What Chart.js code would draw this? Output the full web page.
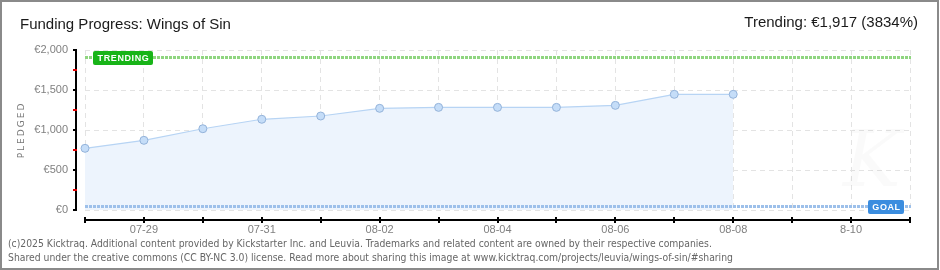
<!DOCTYPE html>
<html>
<head>
<meta charset="utf-8">
<title>Funding Progress: Wings of Sin</title>
<script src="https://cdn.jsdelivr.net/npm/chart.js@4.4.1/dist/chart.umd.min.js"></script>
<style>
  html, body { margin: 0; padding: 0; background: #fff; }
</style>
</head>
<body>
<canvas id="fundingChart" width="940" height="270"></canvas>
<script>
// values
const axisDays = ['07-28', '07-29', '07-30', '07-31', '08-01', '08-02', '08-03', '08-04',
                  '08-05', '08-06', '08-07', '08-08', '08-09', '08-10', '08-11'];
const xTickLabels = ['', '07-29', '', '07-31', '', '08-02', '', '08-04',
                     '', '08-06', '', '08-08', '', '8-10', ''];
const pledged = [771, 871, 1016, 1134, 1175, 1271, 1283, 1283, 1283, 1308, 1446, 1446];
const yTickValues = [0, 500, 1000, 1500, 2000];
const yTickLabels = ['€0', '€500', '€1,000', '€1,500', '€2,000'];
const goal = 50;
const trending = 1917;
const titleText = 'Funding Progress: Wings of Sin';
const trendingText = 'Trending: €1,917 (3834%)';
const footerLines = [
    '(c)2025 Kicktraq. Additional content provided by Kickstarter Inc. and Leuvia. Trademarks and related content are owned by their respective companies.',
    'Shared under the creative commons (CC BY-NC 3.0) license. Read more about sharing this image at www.kicktraq.com/projects/leuvia/wings-of-sin/#sharing'
];

const gridGray = '#e3e3e3';

// dotted reference line (trending / goal)
function drawRefLine(ctx, area, py, color) {
    ctx.save();
    ctx.strokeStyle = color;
    ctx.lineWidth = 3;
    ctx.setLineDash([3, 1]);
    ctx.beginPath();
    ctx.moveTo(area.left, Math.round(py) + 0.5);
    ctx.lineTo(area.right + 1, Math.round(py) + 0.5);
    ctx.stroke();
    ctx.restore();
}

// little coloured tag sitting on a reference line
function drawTag(ctx, anchorX, py, text, color, side) {
    ctx.save();
    ctx.font = 'bold 9px "Liberation Sans", Arial, sans-serif';
    ctx.letterSpacing = '0.6px';
    const w = Math.round(ctx.measureText(text).width) + 8;
    const h = 14;
    const left = side === 'left' ? anchorX : anchorX - w;
    const top = Math.round(py) - 6;
    ctx.fillStyle = color;
    ctx.beginPath();
    ctx.roundRect(left, top, w, h, 2);
    ctx.fill();
    ctx.fillStyle = '#fff';
    ctx.textAlign = 'center';
    ctx.textBaseline = 'middle';
    ctx.fillText(text, left + w / 2 + 0.5, top + h / 2 + 0.5);
    ctx.restore();
}

const kicktraqDecor = {
    id: 'kicktraqDecor',
    afterDatasetsDraw(chart) {
        const { ctx, chartArea: area } = chart;
        const y = chart.scales.y;
        drawRefLine(ctx, area, y.getPixelForValue(trending), '#8fd580');
        drawRefLine(ctx, area, y.getPixelForValue(goal), '#9dc0ea');
        drawTag(ctx, area.left + 8, y.getPixelForValue(trending), 'TRENDING', '#18b418', 'left');
        drawTag(ctx, area.right - 6, y.getPixelForValue(goal), 'GOAL', '#3b8ddf', 'right');
    },
    afterDraw(chart) {
        const { ctx, chartArea: area, width, height } = chart;
        const x = chart.scales.x;
        const y = chart.scales.y;
        ctx.save();

        // faint watermark
        ctx.font = 'italic 78px "DejaVu Serif", serif';
        ctx.fillStyle = 'rgba(0, 0, 0, 0.018)';
        ctx.textAlign = 'center';
        ctx.textBaseline = 'middle';
        ctx.fillText('K', area.right - 38, area.bottom - 44);

        // offset y axis
        const axisX = Math.round(area.left) - 10;
        const yTop = Math.round(y.getPixelForValue(y.max));
        const yBottom = Math.round(y.getPixelForValue(y.min));
        ctx.fillStyle = '#000';
        ctx.fillRect(axisX, yTop - 1, 2, yBottom - yTop + 2);
        y.ticks.forEach(t => {
            const py = Math.round(y.getPixelForValue(t.value));
            ctx.fillStyle = yTickValues.includes(t.value) ? '#000' : '#e00000';
            ctx.fillRect(axisX - 2, py - 1, 4, 2);
        });

        // offset x axis
        const axisY = Math.round(area.bottom) + 9;
        ctx.fillStyle = '#000';
        ctx.fillRect(Math.round(area.left), axisY, Math.round(area.right - area.left) + 1, 2);
        x.ticks.forEach((t, i) => {
            const px = Math.round(x.getPixelForTick(i));
            ctx.fillRect(px - 1, axisY - 2, 2, 6);
        });

        // titles
        ctx.fillStyle = '#1a1a1a';
        ctx.font = '15px "Liberation Sans", Arial, sans-serif';
        ctx.textBaseline = 'alphabetic';
        ctx.textAlign = 'left';
        ctx.fillText(titleText, 20, 29);
        ctx.textAlign = 'right';
        ctx.fillText(trendingText, 918, 27);

        // y axis title
        ctx.save();
        ctx.translate(22, (area.top + area.bottom) / 2);
        ctx.rotate(-Math.PI / 2);
        ctx.font = '9px "DejaVu Sans", sans-serif';
        ctx.letterSpacing = '2px';
        ctx.fillStyle = '#777';
        ctx.textAlign = 'center';
        ctx.textBaseline = 'middle';
        ctx.fillText('PLEDGED', 0, 0);
        ctx.restore();

        // footer
        ctx.font = '10.3px "DejaVu Sans Condensed", "Liberation Sans Narrow", "DejaVu Sans", sans-serif';
        ctx.fillStyle = '#666';
        ctx.textAlign = 'left';
        ctx.fillText(footerLines[0], 8, 247);
        ctx.fillText(footerLines[1], 8, 261);

        // frame
        ctx.strokeStyle = '#8a8a8a';
        ctx.lineWidth = 2;
        ctx.strokeRect(1, 1, width - 3, height - 2);
        ctx.restore();
    }
};

const ctx = document.getElementById('fundingChart').getContext('2d');
new Chart(ctx, {
    type: 'line',
    data: {
        labels: axisDays,
        datasets: [{
            label: 'Pledged',
            data: pledged,
            borderColor: '#b7d4f4',
            borderWidth: 1.2,
            backgroundColor: '#edf4fd',
            fill: 'origin',
            tension: 0,
            pointRadius: 4,
            pointBackgroundColor: '#c5ddf8',
            pointBorderColor: '#94b3da',
            pointBorderWidth: 1
        }]
    },
    options: {
        responsive: false,
        devicePixelRatio: 1,
        animation: false,
        layout: {
            padding: { top: 50, right: 30, left: 0, bottom: 0 }
        },
        scales: {
            x: {
                type: 'category',
                offset: false,
                afterFit(scale) { scale.height = 60; },
                grid: { color: gridGray, drawTicks: false },
                border: { display: false, dash: [5, 4] },
                ticks: {
                    autoSkip: false,
                    maxRotation: 0,
                    padding: 13,
                    color: '#808080',
                    font: { family: '"Liberation Sans", Arial, sans-serif', size: 11 },
                    callback: (val, i) => xTickLabels[i]
                }
            },
            y: {
                min: 0,
                max: 2000,
                afterFit(scale) { scale.width = 85; },
                grid: {
                    drawTicks: false,
                    color: c => (c.tick && yTickValues.includes(c.tick.value)) ? gridGray : 'rgba(0,0,0,0)'
                },
                border: { display: false, dash: [5, 4] },
                ticks: {
                    stepSize: 250,
                    padding: 17,
                    color: '#808080',
                    font: { family: '"Liberation Sans", Arial, sans-serif', size: 11 },
                    callback: v => {
                        const i = yTickValues.indexOf(v);
                        return i >= 0 ? yTickLabels[i] : '';
                    }
                }
            }
        },
        plugins: {
            legend: { display: false },
            tooltip: { enabled: false }
        }
    },
    plugins: [kicktraqDecor]
});
</script>
</body>
</html>
